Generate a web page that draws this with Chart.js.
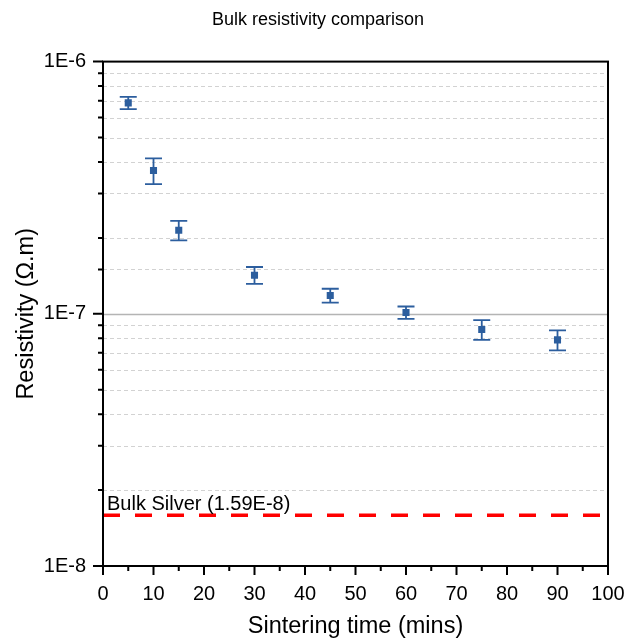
<!DOCTYPE html>
<html>
<head>
<meta charset="utf-8">
<script src="https://cdn.jsdelivr.net/npm/chart.js@4"></script>
<style>
  body { margin: 0; background: #fff; }
  canvas { display: block; }
</style>
</head>
<body>
<canvas id="resChart" width="626" height="641"></canvas>
<script>
// sintering time (mins) and measured bulk resistivity (ohm.m) with error
const times = [5, 10, 15, 30, 45, 60, 75, 90];
const resistivity = [6.86e-7, 3.70e-7, 2.145e-7, 1.423e-7, 1.182e-7, 1.012e-7, 8.66e-8, 7.88e-8];
const errors = [3.85e-8, 4.35e-8, 1.9e-8, 1.1e-8, 7.5e-9, 5.7e-9, 7.8e-9, 7.2e-9];
const bulkSilver = 1.59e-8;
const bulkLabel = 'Bulk Silver (1.59E-8)';

const blue = '#2c5e9e';
const fontFamily = '"Liberation Sans", Arial, sans-serif';

Chart.defaults.font.family = fontFamily;
Chart.defaults.color = '#000';

function isDecade(v) {
    const l = Math.log10(v);
    return Math.abs(l - Math.round(l)) < 1e-6;
}

// grid lines behind the data
const gridLines = {
    id: 'gridLines',
    beforeDatasetsDraw(chart) {
        const { ctx, chartArea: a, scales: { y } } = chart;
        ctx.save();
        y.ticks.forEach(t => {
            const py = Math.round(y.getPixelForValue(t.value)) + 0.5;
            if (py < a.top + 2 || py > a.bottom - 2) return;
            ctx.beginPath();
            if (isDecade(t.value)) {
                ctx.setLineDash([]);
                ctx.strokeStyle = '#b4b4b4';
                ctx.lineWidth = 1.5;
            } else {
                ctx.setLineDash([4, 3]);
                ctx.strokeStyle = '#d2d2d2';
                ctx.lineWidth = 1;
            }
            ctx.moveTo(a.left, py);
            ctx.lineTo(a.right, py);
            ctx.stroke();
        });
        ctx.restore();
    }
};

// vertical error bars with caps
const errorBars = {
    id: 'errorBars',
    beforeDatasetsDraw(chart) {
        const { ctx, scales: { x, y } } = chart;
        ctx.save();
        ctx.strokeStyle = blue;
        ctx.lineWidth = 1.8;
        times.forEach((t, i) => {
            const px = x.getPixelForValue(t);
            const top = y.getPixelForValue(resistivity[i] + errors[i]);
            const bot = y.getPixelForValue(resistivity[i] - errors[i]);
            ctx.beginPath();
            ctx.moveTo(px, top); ctx.lineTo(px, bot);
            ctx.moveTo(px - 8.5, top); ctx.lineTo(px + 8.5, top);
            ctx.moveTo(px - 8.5, bot); ctx.lineTo(px + 8.5, bot);
            ctx.stroke();
        });
        ctx.restore();
    }
};

// frame, tick marks and the bulk silver label
const frame = {
    id: 'frame',
    afterDraw(chart) {
        const { ctx, chartArea: a, scales: { x, y } } = chart;
        ctx.save();
        ctx.strokeStyle = '#000';
        ctx.lineWidth = 2;
        ctx.beginPath();
        x.ticks.forEach(t => {
            const px = x.getPixelForValue(t.value);
            const len = t.value % 10 === 0 ? 9 : 5;
            ctx.moveTo(px, a.bottom);
            ctx.lineTo(px, a.bottom + len);
        });
        y.ticks.forEach(t => {
            const py = y.getPixelForValue(t.value);
            const len = isDecade(t.value) ? 10 : 5;
            ctx.moveTo(a.left - len, py);
            ctx.lineTo(a.left, py);
        });
        ctx.stroke();
        ctx.strokeRect(a.left, a.top, a.right - a.left, a.bottom - a.top);

        ctx.font = '20px ' + fontFamily;
        ctx.fillStyle = '#000';
        ctx.textBaseline = 'middle';
        ctx.textAlign = 'left';
        ctx.fillText(bulkLabel, a.left + 4, y.getPixelForValue(bulkSilver) - 11);
        ctx.restore();
    }
};

const ctx = document.getElementById('resChart').getContext('2d');

const resChart = new Chart(ctx, {
    type: 'scatter',
    data: {
        datasets: [
            {
                label: 'Resistivity',
                data: times.map((t, i) => ({ x: t, y: resistivity[i] })),
                pointStyle: 'rect',
                pointRadius: 5,
                backgroundColor: blue,
                borderColor: blue,
                borderWidth: 0
            },
            {
                type: 'line',
                label: bulkLabel,
                data: [{ x: 0, y: bulkSilver }, { x: 100, y: bulkSilver }],
                borderColor: '#ff0000',
                borderWidth: 3.5,
                borderDash: [17, 15],
                pointRadius: 0,
                fill: false
            }
        ]
    },
    options: {
        responsive: false,
        devicePixelRatio: 1,
        animation: false,
        layout: { padding: { left: 10, right: 0, top: 0, bottom: 0 } },
        plugins: {
            legend: { display: false },
            tooltip: { enabled: false },
            title: {
                display: true,
                text: 'Bulk resistivity comparison',
                font: { size: 18, weight: 'normal' },
                color: '#000',
                padding: { top: 9, bottom: 31 }
            }
        },
        scales: {
            x: {
                type: 'linear',
                min: 0,
                max: 100,
                grid: { display: false },
                border: { display: false },
                ticks: {
                    stepSize: 5,
                    autoSkip: false,
                    maxRotation: 0,
                    padding: 8,
                    font: { size: 20 },
                    callback: v => (v % 10 === 0 ? String(v) : '')
                },
                title: {
                    display: true,
                    text: 'Sintering time (mins)',
                    font: { size: 23.5 },
                    padding: { top: 0, bottom: 0 }
                },
                afterFit(scale) {
                    scale.height = 75;
                    scale.paddingRight = 18;
                }
            },
            y: {
                type: 'logarithmic',
                min: 1e-8,
                max: 1e-6,
                grid: { display: false },
                border: { display: false },
                ticks: {
                    autoSkip: false,
                    padding: 9,
                    font: { size: 20 },
                    callback: v => (isDecade(v) ? '1E' + Math.round(Math.log10(v)) : '')
                },
                title: {
                    display: true,
                    text: 'Resistivity (Ω.m)',
                    font: { size: 23.5 },
                    padding: { top: 2, bottom: 0 }
                },
                afterFit(scale) {
                    scale.width = 93;
                }
            }
        }
    },
    plugins: [gridLines, errorBars, frame]
});
</script>
</body>
</html>
